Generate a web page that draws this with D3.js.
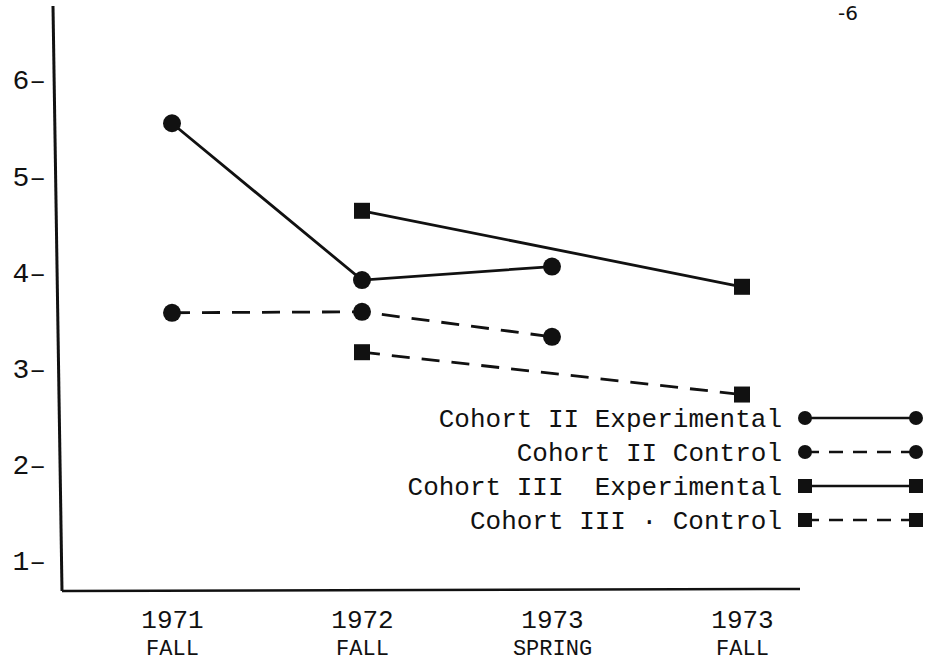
<!DOCTYPE html>
<html>
<head>
<meta charset="utf-8">
<script src="https://cdn.jsdelivr.net/npm/d3@7"></script>
<style>
  body { margin: 0; background: #fff; }
  text { font-family: "Liberation Mono", "DejaVu Sans Mono", monospace; fill: #111; }
</style>
</head>
<body>
<script>
// data
years = ["1971", "1972", "1973", "1973 "];
seasons = ["FALL", "FALL", "SPRING", "FALL"];
yTicks = [1, 2, 3, 4, 5, 6];
seriesNames = ["Cohort II Experimental", "Cohort II Control", "Cohort III  Experimental", "Cohort III \u00b7 Control"];
c2Exp = [5.54, 3.91, 4.05, null];
c2Ctl = [3.57, 3.58, 3.32, null];
c3Exp = [null, 4.63, null, 3.84];
c3Ctl = [null, 3.16, null, 2.72];

series = [
    {name: seriesNames[0], values: c2Exp, shape: "circle", dash: null},
    {name: seriesNames[1], values: c2Ctl, shape: "circle", dash: "18,12"},
    {name: seriesNames[2], values: c3Exp, shape: "square", dash: null},
    {name: seriesNames[3], values: c3Ctl, shape: "square", dash: "18,12"}
];

svg = d3.select("body").append("svg").attr("width", 937).attr("height", 671);

x = d3.scalePoint().domain(years).range([172, 742]);
y = d3.scaleLinear().domain([1, 6]).range([560, 79]);

// axes lines (slightly slanted like the scan)
svg.append("line").attr("x1", 53).attr("y1", 6).attr("x2", 62).attr("y2", 591)
    .attr("stroke", "#111").attr("stroke-width", 3);
svg.append("line").attr("x1", 62).attr("y1", 591).attr("x2", 800).attr("y2", 589)
    .attr("stroke", "#111").attr("stroke-width", 2.5);

yAxis = svg.append("g").attr("transform", "translate(46,0)")
    .call(d3.axisLeft(y).tickValues(yTicks).tickSize(0).tickPadding(0).tickFormat(d => d + "\u2013"));
yAxis.select(".domain").remove();
yAxis.selectAll("text").style("font-size", "28px").attr("fill", "#111").attr("dy", "0.35em");

// year row, then season row underneath
xAxis = svg.append("g").attr("transform", "translate(0,628)")
    .call(d3.axisBottom(x).tickSize(0).tickPadding(0).tickFormat(d => d.trim()));
xAxis.select(".domain").remove();
xAxis.selectAll("text").style("font-size", "26px").attr("fill", "#111").attr("y", 0).attr("dy", 0);
xAxis.selectAll(".tick").append("text")
    .text((d, i) => seasons[i])
    .attr("y", 27)
    .attr("text-anchor", "middle")
    .style("font-size", "22px");

line = d3.line().x(d => x(d.cat)).y(d => y(d.v));

series.forEach((s) => {
    pts = s.values.map((v, i) => ({cat: years[i], v: v})).filter(d => d.v != null);
    svg.append("path").datum(pts)
        .attr("d", line)
        .attr("fill", "none")
        .attr("stroke", "#111")
        .attr("stroke-width", 2.8)
        .attr("stroke-dasharray", s.dash);
    if (s.shape == "circle") {
        svg.selectAll(null).data(pts).enter().append("circle")
            .attr("cx", d => x(d.cat)).attr("cy", d => y(d.v)).attr("r", 9)
            .style("fill", "#111");
    } else {
        svg.selectAll(null).data(pts).enter().append("rect")
            .attr("x", d => x(d.cat) - 8).attr("y", d => y(d.v) - 8)
            .attr("width", 16).attr("height", 16)
            .style("fill", "#111");
    }
});

// legend
legend = svg.append("g");
legendY = d3.scalePoint().domain(seriesNames).range([418, 520]);
series.forEach((s) => {
    ly = legendY(s.name);
    legend.append("text").text(s.name)
        .attr("x", 782).attr("y", ly).attr("dy", "0.35em")
        .attr("text-anchor", "end")
        .style("font-size", "26px")
        .style("white-space", "pre")
        .attr("xml:space", "preserve");
    legend.append("line").attr("x1", 805).attr("y1", ly).attr("x2", 916).attr("y2", ly)
        .attr("stroke", "#111").attr("stroke-width", 2.5).attr("stroke-dasharray", s.dash ? "14,10" : null);
    [805, 916].forEach((lx) => {
        if (s.shape == "circle") {
            legend.append("circle").attr("cx", lx).attr("cy", ly).attr("r", 7).style("fill", "#111");
        } else {
            legend.append("rect").attr("x", lx - 7).attr("y", ly - 7).attr("width", 14).attr("height", 14).style("fill", "#111");
        }
    });
});

// page number fragment at the top right
svg.append("text").text("-6").attr("x", 838).attr("y", 20)
    .style("font-family", "'DejaVu Sans', sans-serif").style("font-size", "20px");
</script>
</body>
</html>
